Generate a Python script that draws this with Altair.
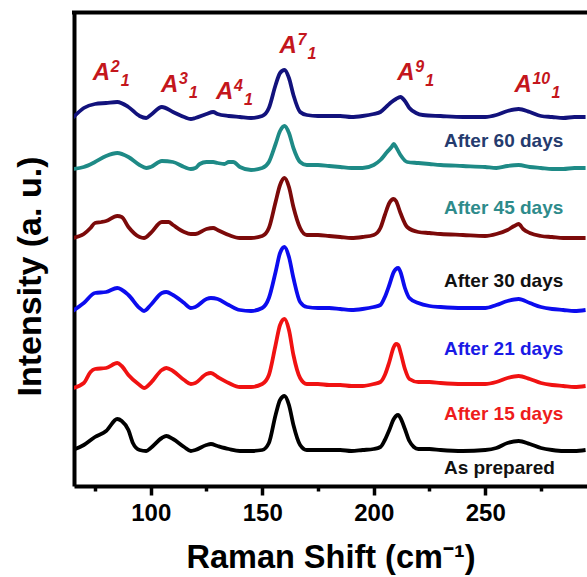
import altair as alt
import pandas as pd

# ---- data (Raman shift in cm-1, intensity in arbitrary units, stacked) ----
series_names = ["As prepared", "After 15 days", "After 21 days", "After 30 days", "After 45 days", "After 60 days"]
line_colors = ["#000000", "#F01212", "#0C0CEE", "#7C0A0A", "#1E8A86", "#12127C"]

black_x = [65, 70, 75, 80, 85, 87, 90, 92, 95, 98, 100, 105, 107, 110, 115, 118, 120, 125, 127, 130, 135, 140, 145, 150,
           153, 156, 158, 160, 162, 164, 167, 170, 175, 180, 185, 190, 195, 200, 203, 205, 207, 209, 210, 211, 212, 214,
           216, 218, 220, 225, 230, 240, 250, 255, 260, 265, 270, 275, 280, 285, 290, 295]
black_y = [37, 42, 50, 56, 68, 66, 57, 44, 37, 36, 39, 49, 51, 48, 40, 36, 37, 42, 43, 41, 38, 36, 36, 37,
           44, 72, 87, 91, 82, 62, 42, 37, 37, 37, 37, 36, 37, 38, 40, 47, 57, 68, 71, 72, 69, 58,
           46, 40, 38, 38, 37, 36, 37, 39, 44, 46, 43, 39, 37, 36, 36, 37]

red_x = [65, 70, 73, 75, 80, 85, 87, 90, 95, 97, 100, 105, 107, 110, 115, 118, 120, 125, 127, 130, 135, 140, 145, 150,
         153, 156, 158, 160, 162, 164, 167, 170, 175, 180, 185, 190, 195, 200, 203, 205, 207, 209, 210, 211, 212, 214,
         216, 220, 225, 230, 240, 250, 255, 260, 265, 270, 275, 280, 285, 290, 295]
red_y = [99, 104, 115, 118, 119, 124, 121, 112, 102, 99, 104, 117, 119, 116, 107, 103, 104, 113, 114, 110, 104, 100, 100, 103,
         112, 142, 162, 168, 157, 132, 109, 103, 103, 102, 102, 101, 101, 103, 105, 112, 125, 140, 143, 142, 135, 118,
         108, 105, 105, 104, 103, 103, 105, 109, 111, 108, 104, 102, 101, 100, 101]

blue_x = [65, 70, 75, 80, 85, 90, 95, 97, 100, 105, 107, 110, 115, 118, 120, 125, 127, 130, 135, 140, 145, 150,
          153, 156, 158, 160, 162, 164, 167, 170, 175, 180, 185, 190, 195, 200, 203, 205, 207, 209, 210, 211, 212, 214,
          216, 220, 225, 230, 240, 250, 255, 260, 265, 270, 275, 280, 285, 290, 295]
blue_y = [176, 184, 194, 195, 199, 192, 179, 176, 182, 194, 195, 192, 184, 179, 180, 188, 189, 188, 182, 177, 176, 179,
          189, 215, 234, 240, 230, 209, 185, 180, 179, 179, 178, 177, 178, 180, 182, 190, 202, 215, 218, 219, 215, 199,
          189, 184, 181, 180, 179, 179, 182, 186, 188, 184, 180, 178, 177, 176, 177]

darkred_x = [65, 70, 73, 75, 78, 80, 85, 87, 90, 95, 97, 100, 105, 108, 110, 115, 118, 120, 125, 128, 130, 135, 140, 145,
             150, 153, 156, 158, 160, 162, 164, 167, 170, 175, 180, 185, 190, 195, 200, 203, 205, 207, 208, 209, 210, 212,
             215, 220, 225, 230, 240, 250, 255, 260, 263, 265, 267, 270, 275, 280, 285, 290, 295]
darkred_y = [249, 253, 259, 264, 265, 266, 271, 270, 260, 250, 249, 254, 265, 265, 262, 255, 253, 253, 258, 259, 257, 252, 249, 249,
             251, 259, 285, 302, 309, 300, 280, 259, 252, 252, 251, 250, 249, 250, 252, 259, 272, 284, 287, 288, 286, 274,
             260, 255, 254, 253, 252, 251, 253, 257, 261, 263, 258, 254, 251, 250, 249, 249, 249]

teal_x = [65, 70, 75, 80, 85, 90, 95, 98, 100, 105, 110, 115, 118, 120, 122, 125, 128, 130, 133, 135, 137, 140, 145, 150,
          153, 156, 158, 160, 162, 164, 167, 170, 175, 180, 185, 190, 195, 200, 203, 206, 208, 209, 210, 212, 215, 220,
          225, 230, 240, 250, 255, 260, 265, 270, 275, 280, 285, 290, 295]
teal_y = [318, 320, 325, 331, 334, 330, 322, 319, 320, 326, 325, 320, 318, 319, 323, 325, 325, 324, 323, 325, 325, 320, 317, 319,
          325, 343, 356, 361, 354, 339, 325, 322, 322, 321, 320, 319, 319, 322, 327, 335, 340, 343, 340, 332, 325, 324,
          323, 322, 321, 320, 319, 321, 322, 320, 319, 318, 318, 319, 319]

navy_x = [65, 70, 75, 80, 85, 90, 95, 98, 100, 105, 110, 115, 118, 120, 125, 128, 130, 135, 140, 145, 150, 153, 156, 158,
          160, 162, 164, 167, 170, 175, 180, 185, 190, 195, 200, 203, 206, 208, 210, 212, 214, 216, 219, 222, 230, 240,
          250, 255, 260, 265, 270, 275, 280, 285, 290, 295]
navy_y = [369, 379, 383, 384, 385, 380, 371, 369, 372, 380, 375, 370, 368, 369, 373, 375, 373, 371, 370, 369, 371, 379, 402, 414,
          417, 409, 392, 375, 372, 371, 371, 371, 370, 371, 373, 375, 381, 385, 388, 390, 386, 379, 374, 372, 371, 370,
          370, 372, 376, 378, 375, 371, 370, 369, 370, 370]

# sample labels placed under each curve
label_texts = ["As prepared", "After 15 days", "After 21 days", "After 30 days", "After 45 days", "After 60 days"]
label_colors = ["#111111", "#EE1C1C", "#1A1AE6", "#111111", "#2E8B8B", "#253B6E"]
label_y = [13.5, 67, 132, 200, 273.5, 340]
label_x = 231.5

# peak annotations A^n_1
peak_sup = ["2", "3", "4", "7", "9", "10"]
peak_x = [74.0, 104.6, 129.3, 157.7, 210.6, 263.1]
peak_y = [407, 395.3, 388, 434.3, 407, 395.3]

xticks = [75, 100, 125, 150, 175, 200, 225, 250, 275]

# ---- build tables ----
rows = []
for name, xs, ys in zip(series_names,
                        [black_x, red_x, blue_x, darkred_x, teal_x, navy_x],
                        [black_y, red_y, blue_y, darkred_y, teal_y, navy_y]):
    for xv, yv in zip(xs, ys):
        rows.append({"series": name, "shift": xv, "intensity": yv})
df = pd.DataFrame(rows)

labels_df = pd.DataFrame({"label": label_texts, "tcolor": label_colors,
                          "y": label_y, "x": [label_x] * len(label_texts)})
peaks_df = pd.DataFrame({"sup": peak_sup, "x": peak_x, "y": peak_y, "base": ["A"] * len(peak_sup),
                         "sub": ["1"] * len(peak_sup)})

W, H = 513, 473.5
FONT = "Liberation Sans"
xscale = alt.Scale(domain=[65.6, 295.65], nice=False, zero=False)
yscale = alt.Scale(domain=[1, 474.5], nice=False, zero=False)

x_axis = alt.Axis(
    values=xticks,
    labelExpr="datum.value % 50 == 0 ? datum.label : ''",
    tickSize={"condition": {"test": "datum.value % 50 == 0", "value": 9}, "value": 5},
    tickWidth=3.5, tickColor="black",
    domainWidth=4, domainColor="black",
    labelFont=FONT, labelFontSize=24, labelFontWeight="bold", labelColor="black", labelPadding=6,
    title="Raman Shift (cm⁻¹)", titleFont=FONT, titleFontSize=32.5, titleFontWeight="bold",
    titleColor="black", titleBaseline="alphabetic", titleY=81,
    grid=False,
)
y_axis = alt.Axis(
    labels=False, ticks=False, grid=False,
    domainWidth=4, domainColor="black",
    title="Intensity (a. u.)", titleFont=FONT, titleFontSize=34, titleFontWeight="bold", titleColor="black",
    titleAngle=270, titleX=-34, titleY=263.5, titleAlign="center", titleBaseline="alphabetic",
)

lines = alt.Chart(df).mark_line(strokeWidth=3.8, interpolate="monotone", clip=True).encode(
    x=alt.X("shift:Q", scale=xscale, axis=x_axis),
    y=alt.Y("intensity:Q", scale=yscale, axis=y_axis),
    color=alt.Color("series:N", scale=alt.Scale(domain=series_names, range=line_colors), legend=None),
)

top_border = alt.Chart(pd.DataFrame({"a": [0]})).mark_rule(strokeWidth=4, color="black").encode(
    y=alt.value(0), x=alt.value(-2), x2=alt.value(W)
)

day_labels = alt.Chart(labels_df).mark_text(
    align="left", baseline="alphabetic", font=FONT, fontSize=19, fontWeight="bold"
).encode(
    x=alt.X("x:Q", scale=xscale), y=alt.Y("y:Q", scale=yscale),
    text="label:N", color=alt.Color("tcolor:N", scale=None),
)

RED = "#C4161C"
peak_A = alt.Chart(peaks_df).mark_text(
    align="left", baseline="alphabetic", font=FONT, fontSize=24, fontWeight="bold", fontStyle="italic", color=RED
).encode(x=alt.X("x:Q", scale=xscale), y=alt.Y("y:Q", scale=yscale), text="base:N")

peak_sup_t = alt.Chart(peaks_df).mark_text(
    align="left", baseline="alphabetic", font=FONT, fontSize=16, fontWeight="bold", fontStyle="italic", color=RED,
    dx=18, dy=-8
).encode(x=alt.X("x:Q", scale=xscale), y=alt.Y("y:Q", scale=yscale), text="sup:N")

peak_sub1 = alt.Chart(peaks_df).transform_filter("length(datum.sup) == 1").mark_text(
    align="left", baseline="alphabetic", font=FONT, fontSize=16, fontWeight="bold", fontStyle="italic", color=RED,
    dx=28, dy=6
).encode(x=alt.X("x:Q", scale=xscale), y=alt.Y("y:Q", scale=yscale), text="sub:N")

peak_sub2 = alt.Chart(peaks_df).transform_filter("length(datum.sup) == 2").mark_text(
    align="left", baseline="alphabetic", font=FONT, fontSize=16, fontWeight="bold", fontStyle="italic", color=RED,
    dx=37, dy=6
).encode(x=alt.X("x:Q", scale=xscale), y=alt.Y("y:Q", scale=yscale), text="sub:N")

chart = alt.layer(lines, top_border, day_labels, peak_A, peak_sup_t, peak_sub1, peak_sub2).properties(
    width=W, height=H,
    autosize=alt.AutoSizeParams(type="none"),
    padding={"left": 74, "top": 12.5, "right": 0, "bottom": 91},
).configure_view(stroke=None).configure(background="white")

chart.save("out.html", embed_options={"renderer": "svg", "actions": False})
